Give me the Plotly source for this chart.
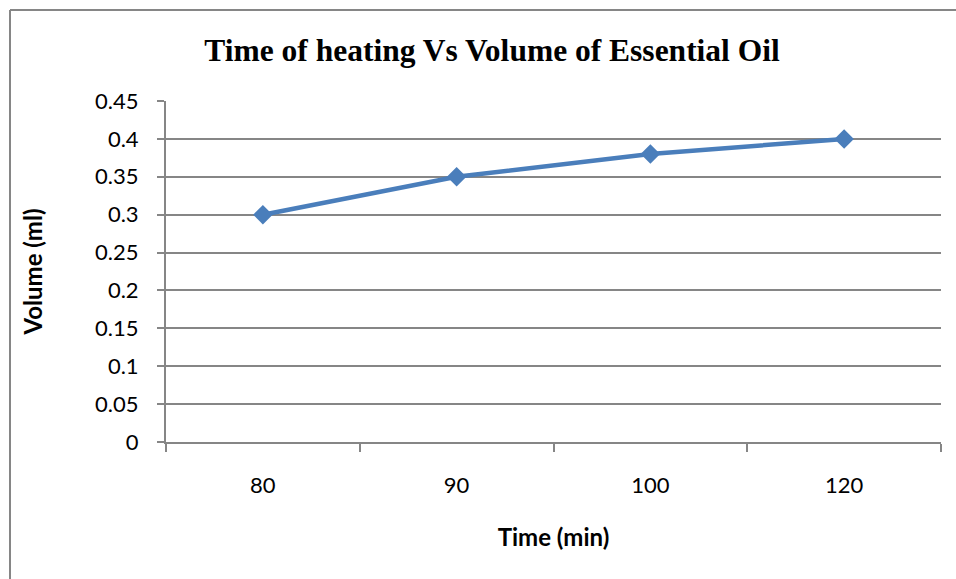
import plotly.graph_objects as go

categories = ["80", "90", "100", "120"]
volumes = [0.30, 0.35, 0.38, 0.40]
y_ticks = [0, 0.05, 0.1, 0.15, 0.2, 0.25, 0.3, 0.35, 0.4, 0.45]

W, H = 956, 579
L, R, T, B = 166, 15, 101, 137
pw, ph = W - L - R, H - T - B

def px_x(p):
    return (p - L) / pw

def px_y(p):
    return (H - B - p) / ph

GRAY = "#868686"
BLUE = "#4a7ebb"

fig = go.Figure()
fig.add_trace(go.Scatter(
    x=categories, y=volumes, mode="lines+markers",
    line=dict(color=BLUE, width=4.5),
    marker=dict(symbol="diamond", size=15, color=BLUE),
    showlegend=False, cliponaxis=False,
))

fig.update_layout(
    width=W, height=H,
    margin=dict(l=L, r=R, t=T, b=B),
    paper_bgcolor="white", plot_bgcolor="white",
    font=dict(family="Lato, Open Sans, sans-serif", color="black"),
    title=dict(
        text="<b>Time of heating Vs Volume of Essential Oil</b>",
        font=dict(family="Liberation Serif, Times New Roman, serif", size=31.5, color="black"),
        xref="container", x=492 / W, xanchor="center", y=1 - 50 / H, yanchor="middle",
    ),
    xaxis=dict(
        type="category", range=[-0.5, 3.5],
        showgrid=False, showline=True, linecolor=GRAY, linewidth=2,
        ticks="outside", tickson="boundaries", ticklen=8, tickwidth=2, tickcolor=GRAY,
        tickfont=dict(size=22, family="Lato, sans-serif"),
        ticklabelstandoff=23,
        title=dict(text="<b>Time (min)</b>", font=dict(size=24), standoff=32),
        zeroline=False,
    ),
    yaxis=dict(
        range=[0, 0.45], tickvals=y_ticks, ticktext=[f"{v:g}" for v in y_ticks],
        showgrid=True, gridcolor=GRAY, gridwidth=2,
        showline=True, linecolor=GRAY, linewidth=2,
        ticks="outside", ticklen=7, tickwidth=2, tickcolor=GRAY,
        tickfont=dict(size=22, family="Lato, sans-serif"),
        ticklabelstandoff=14,
        title=dict(text="<b>Volume (ml)</b>", font=dict(size=24), standoff=46),
        zeroline=False,
    ),
    shapes=[
        dict(type="line", xref="paper", yref="paper",
             x0=px_x(10), x1=px_x(970), y0=px_y(10), y1=px_y(10),
             line=dict(color=GRAY, width=2)),
        dict(type="line", xref="paper", yref="paper",
             x0=px_x(10), x1=px_x(10), y0=px_y(10), y1=px_y(600),
             line=dict(color=GRAY, width=2)),
    ],
)

fig.write_html("out.html")
